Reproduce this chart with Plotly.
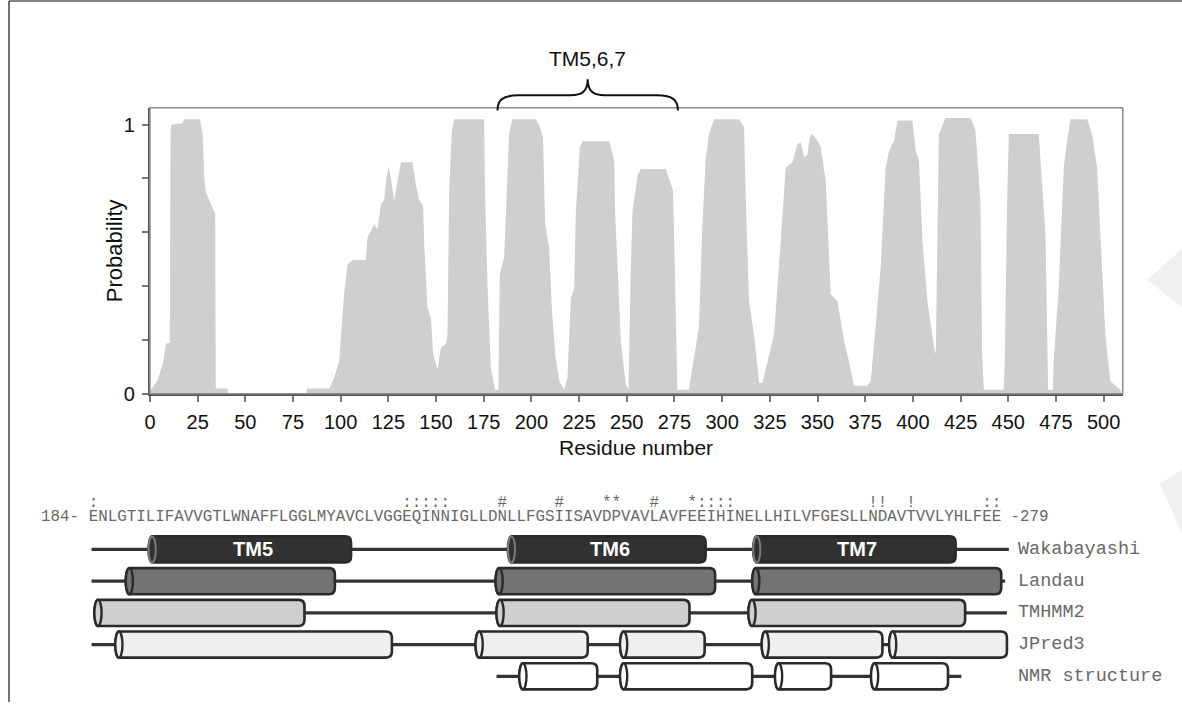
import plotly.graph_objects as go

W, H = 1182, 713

# ---------------- data: TM probability profile ----------------
RESIDUE = [0, 1, 2.3, 4, 5.8, 7, 8.4, 10.4, 10.8, 11.2, 17, 18, 26.2, 27.6, 28.5, 29.3, 32, 34.2, 34.5, 40.7, 41,
           82, 82.3, 94, 96.6, 99.2, 100.5, 101.8, 103.6, 106.2, 113.2, 114, 117.6, 119.3, 121.1, 122.8, 123.7,
           125.1, 126.3, 128.1, 129.8, 131.6, 137.7, 139.1, 141.1, 143.2, 143.8, 145.5, 147.3, 148.5, 150.8,
           152.5, 155.1, 156, 156.9, 158.3, 159.5, 175.2, 175.7, 176.9, 178.7, 180.9, 182.7, 183.4, 185.7,
           187.4, 188.3, 190, 202.3, 204, 206.1, 207.2, 209.3, 210.7, 212.5, 214.6, 217.2, 218.9, 220.7, 222.4,
           223.3, 225.4, 226.8, 240.8, 243.4, 243.9, 245.2, 246.9, 249.5, 250.9, 252.1, 253, 255.6, 257.3,
           270.4, 272.1, 274.2, 275.2, 276.5, 282.5, 284.3, 287.8, 289.6, 291.3, 293.1, 295.7, 308.8, 311.5,
           312.4, 314.1, 316.7, 319.4, 321.1, 324.6, 327.2, 330.7, 333.3, 336.8, 339.5, 341.2, 342.9, 344.7,
           345.9, 347.3, 349.9, 351.7, 354.3, 356.9, 360.4, 363.9, 366.5, 369.1, 376.1, 377.9, 380.5, 383.1,
           385.7, 387.5, 390.1, 391.9, 399.7, 401.5, 403.2, 405, 407.6, 411.1, 412, 413.6, 417.1, 430.2, 432.8,
           435.4, 436.3, 437.2, 447.6, 448.2, 449.4, 450.3, 466, 467.8, 469.5, 470.9, 473.3, 473.8, 476.4,
           479.1, 480.8, 482.6, 491.3, 493.9, 496.6, 498.3, 500.9, 503.5, 506.1, 508.7, 509.4]
PROBABILITY = [0.01, 0.02, 0.035, 0.05, 0.09, 0.12, 0.186, 0.19, 0.97, 1.0, 1.005, 1.02, 1.02, 0.965, 0.80, 0.75,
               0.705, 0.67, 0.02, 0.02, 0.0,
               0.0, 0.02, 0.02, 0.06, 0.12, 0.25, 0.37, 0.48, 0.497, 0.497, 0.58, 0.63, 0.61, 0.705, 0.72, 0.79,
               0.845, 0.80, 0.72, 0.79, 0.86, 0.86, 0.79, 0.72, 0.70, 0.556, 0.32, 0.282, 0.147, 0.09,
               0.171, 0.184, 0.22, 0.76, 0.978, 1.02, 1.02, 0.742, 0.42, 0.099, 0.015, 0.015, 0.444, 0.506,
               0.804, 0.965, 1.02, 1.02, 1.0, 0.952, 0.63, 0.543, 0.32, 0.147, 0.047, 0.015, 0.06, 0.357, 0.39,
               0.68, 0.916, 0.938, 0.938, 0.866, 0.67, 0.444, 0.196, 0.035, 0.015, 0.469, 0.68, 0.81, 0.835,
               0.835, 0.80, 0.755, 0.469, 0.015, 0.015, 0.099, 0.246, 0.618, 0.866, 0.965, 1.02, 1.02, 0.99,
               0.717, 0.346, 0.22, 0.04, 0.04, 0.147, 0.22, 0.568, 0.84, 0.86, 0.928, 0.934, 0.88, 0.888,
               0.952, 0.965, 0.94, 0.916, 0.79, 0.37, 0.346, 0.196, 0.12, 0.03, 0.03, 0.047, 0.246, 0.469,
               0.84, 0.903, 0.94, 1.015, 1.015, 0.903, 0.866, 0.568, 0.346, 0.171, 0.147, 0.965, 1.025, 1.025, 0.978,
               0.717, 0.147, 0.015, 0.015, 0.134, 0.717, 0.965, 0.965, 0.78, 0.59, 0.015, 0.015, 0.12, 0.39,
               0.84, 0.94, 1.02, 1.02, 0.965, 0.84, 0.59, 0.22, 0.047, 0.03, 0.015, 0.0]

X_TICKS = list(range(0, 501, 25))
Y_TICKS = [0, 0.2, 0.4, 0.6, 0.8, 1.0]
Y_TICK_TEXT = ["0", "", "", "", "", "1"]

BRACE_START, BRACE_END = 182.2, 276.8
BRACE_LABEL = "TM5,6,7"

# ---------------- data: sequence & secondary structure ----------------
SEQ_START, SEQ_END = 184, 279
SEQUENCE = "ENLGTILIFAVVGTLWNAFFLGGLMYAVCLVGGEQINNIGLLDNLLFGSIISAVDPVAVLAVFEEIHINELLHILVFGESLLNDAVTVVLYHLFEE"
MARK_RESIDUES = [184, 217, 218, 219, 220, 221, 227, 233, 238, 239, 243, 247, 248, 249, 250, 251,
                 266, 267, 270, 278, 279]
MARK_SYMBOLS = [":", ":", ":", ":", ":", ":", "#", "#", "*", "*", "#", "*", ":", ":", ":", ":",
                "!", "!", "!", ":", ":"]

METHODS = ["Wakabayashi", "Landau", "TMHMM2", "JPred3", "NMR structure"]
BACKBONE_START = [184.3, 184.3, 184.6, 184.3, 226.9]
BACKBONE_END = [280.8, 280.4, 280.6, 280.6, 275.8]
HELIX_START = [[190.3, 228.1, 253.9],
               [187.9, 226.8, 253.8],
               [184.6, 226.9, 253.4],
               [186.8, 224.7, 239.9, 254.8, 268.2],
               [229.3, 239.9, 256.2, 266.3]]
HELIX_END = [[211.6, 248.9, 275.2],
             [209.9, 249.9, 280.0],
             [206.7, 247.2, 276.2],
             [215.9, 236.5, 248.8, 267.5, 280.6],
             [237.5, 253.8, 262.1, 274.4]]
HELIX_FILL = ["#313131", "#737373", "#cfcfcf", "#efefef", "#ffffff"]
TM_LABELS = ["TM5", "TM6", "TM7"]

# ---------------- layout geometry (target picture pixels) ----------------
# the captured picture places the paper area at x in [OX, W], y in [0, SH]
OX, SH = 5.5, 699.5
SW = W - OX

def fx(px):  # picture x -> paper
    return (px - OX) / SW

def fy(py):  # picture y -> paper
    return 1 - py / SH

PLOT_L, PLOT_R, PLOT_T, PLOT_B = 149.5, 1122.7, 107.3, 392.4
X_MAX = 510.0
Y_MAX = (PLOT_B - PLOT_T) / 268.2

SEQ_PX0, CHAR_W = 88.2, 9.51           # picture x of left edge of residue 184, width per residue
ROW0_PX, ROW_PITCH = 547.5, 31.6
LOW_TOP = 470.0                        # top pixel of the lower panel
X2_RANGE = [SEQ_START - (SEQ_PX0 - OX) / CHAR_W, SEQ_START + (W - SEQ_PX0) / CHAR_W]
Y2_RANGE = [(SH - ROW0_PX) / ROW_PITCH, (LOW_TOP - ROW0_PX) / ROW_PITCH]
SEQ_ROW = (515.0 - ROW0_PX) / ROW_PITCH
MARK_ROW = (501.7 - ROW0_PX) / ROW_PITCH

SANS = "Liberation Sans, Arial, sans-serif"
MONO = "Liberation Mono, Courier New, monospace"
SEQ_GRAY = "#686868"

fig = go.Figure()

fig.add_trace(go.Scatter(x=RESIDUE, y=PROBABILITY, mode="lines", fill="tozeroy",
                         fillcolor="#cfcfd1", line=dict(width=0, color="#cfcfd1"),
                         hoverinfo="skip", showlegend=False, xaxis="x", yaxis="y"))

# sequence letters (one per residue column)
seq_x = [SEQ_START + i + 0.5 for i in range(len(SEQUENCE))]
fig.add_trace(go.Scatter(x=seq_x, y=[SEQ_ROW] * len(SEQUENCE), text=list(SEQUENCE), mode="text",
                         textposition="middle center",
                         textfont=dict(family=MONO, size=15.85, color=SEQ_GRAY),
                         hoverinfo="skip", showlegend=False, xaxis="x2", yaxis="y2"))
fig.add_trace(go.Scatter(x=[r + 0.5 for r in MARK_RESIDUES], y=[MARK_ROW] * len(MARK_RESIDUES),
                         text=MARK_SYMBOLS, mode="text", textposition="middle center",
                         textfont=dict(family=MONO, size=15.85, color=SEQ_GRAY),
                         hoverinfo="skip", showlegend=False, xaxis="x2", yaxis="y2"))

shapes = []
annotations = []

# faint watermark wedges at the right edge
for pts in ([(1147, 279), (1182, 248), (1182, 306)], [(1160, 482), (1182, 468), (1182, 532)]):
    p = "M " + " L ".join(f"{fx(a)},{fy(b)}" for a, b in pts) + " Z"
    shapes.append(dict(type="path", xref="paper", yref="paper", path=p,
                       fillcolor="#f0f0f0", line=dict(width=0), layer="below"))

# plot frame (top/right lighter)
shapes.append(dict(type="rect", xref="paper", yref="paper",
                   x0=fx(PLOT_L), x1=fx(PLOT_R), y0=fy(PLOT_B), y1=fy(PLOT_T),
                   line=dict(color="#8c8c8c", width=1.5), layer="above"))

# outer figure border (top and left)
shapes.append(dict(type="line", xref="paper", yref="paper", x0=fx(8.5), x1=1, y0=fy(1), y1=fy(1),
                   line=dict(color="#111", width=1.2)))
shapes.append(dict(type="line", xref="paper", yref="paper", x0=fx(8.5), x1=fx(8.5), y0=fy(1), y1=0,
                   line=dict(color="#111", width=1.2)))

# brace over the TM5-7 region
xs, xe = BRACE_START, BRACE_END
xm = (xs + xe) / 2
yb, yh, yt = fy(110), fy(95), fy(79)
brace = (f"M {xs},{yb} C {xs},{fy(100)} {xs+2.5},{yh} {xs+11},{yh} "
         f"L {xm-9},{yh} C {xm-3},{yh} {xm},{fy(91)} {xm},{yt} "
         f"C {xm},{fy(91)} {xm+3},{yh} {xm+9},{yh} "
         f"L {xe-11},{yh} C {xe-2.5},{yh} {xe},{fy(100)} {xe},{yb}")
shapes.append(dict(type="path", xref="x", yref="paper", path=brace,
                   line=dict(color="#111", width=2)))
annotations.append(dict(x=xm, y=fy(58), xref="x", yref="paper", text=BRACE_LABEL, showarrow=False,
                        xanchor="center", yanchor="middle",
                        font=dict(family=SANS, size=21, color="#111")))

# axis titles
annotations.append(dict(x=fx((PLOT_L + PLOT_R) / 2), y=fy(446), xref="paper", yref="paper",
                        text="Residue number", showarrow=False, xanchor="center", yanchor="middle",
                        font=dict(family=SANS, size=21, color="#111")))
annotations.append(dict(x=fx(114), y=fy((PLOT_T + PLOT_B) / 2), xref="paper", yref="paper",
                        text="Probability", showarrow=False, textangle=-90,
                        xanchor="center", yanchor="middle",
                        font=dict(family=SANS, size=22, color="#111")))

# sequence ends
annotations.append(dict(x=SEQ_START, y=SEQ_ROW, xref="x2", yref="y2", text=f"{SEQ_START}-\u00a0",
                        xanchor="right", yanchor="middle", showarrow=False, borderpad=0, borderwidth=0,
                        font=dict(family=MONO, size=15.85, color=SEQ_GRAY)))
annotations.append(dict(x=SEQ_END + 1, y=SEQ_ROW, xref="x2", yref="y2", text=f"\u00a0-{SEQ_END}",
                        xanchor="left", yanchor="middle", showarrow=False, borderpad=0, borderwidth=0,
                        font=dict(family=MONO, size=15.85, color=SEQ_GRAY)))

# cylinders
HH = 13.0 / ROW_PITCH        # half height (y units)
RX = 3.6 / CHAR_W            # ellipse half width (x units)
RCX, RCY = 6.0 / CHAR_W, 6.0 / ROW_PITCH
K = 0.5523
OUTLINE = "#2a2a2a"

for i, name in enumerate(METHODS):
    shapes.append(dict(type="line", xref="x2", yref="y2", x0=BACKBONE_START[i], x1=BACKBONE_END[i],
                       y0=i, y1=i, line=dict(color="#333", width=3.2)))
for i, name in enumerate(METHODS):
    yc = i
    ytp, ybt = yc - HH, yc + HH
    for j, (a, b) in enumerate(zip(HELIX_START[i], HELIX_END[i])):
        cx = a + RX
        path = (f"M {cx},{ytp} L {b-RCX},{ytp} Q {b},{ytp} {b},{ytp+RCY} "
                f"L {b},{ybt-RCY} Q {b},{ybt} {b-RCX},{ybt} L {cx},{ybt} "
                f"C {cx-K*RX},{ybt} {a},{yc+K*HH} {a},{yc} "
                f"C {a},{yc-K*HH} {cx-K*RX},{ytp} {cx},{ytp} Z")
        shapes.append(dict(type="path", xref="x2", yref="y2", path=path, fillcolor=HELIX_FILL[i],
                           line=dict(color=OUTLINE, width=2.6)))
        shapes.append(dict(type="circle", xref="x2", yref="y2", x0=a, x1=a + 2 * RX, y0=ytp, y1=ybt,
                           fillcolor=HELIX_FILL[i],
                           line=dict(color="#7a7a7a" if i == 0 else OUTLINE, width=2 if i == 0 else 2.4)))
        if i == 0:
            annotations.append(dict(x=(a + b) / 2 + 0.3, y=yc, xref="x2", yref="y2",
                                    text=f"<b>{TM_LABELS[j]}</b>", showarrow=False,
                                    xanchor="center", yanchor="middle",
                                    font=dict(family=SANS, size=20, color="#ffffff")))
    annotations.append(dict(x=SEQ_START + (1018 - SEQ_PX0) / CHAR_W, y=yc, xref="x2", yref="y2", text=name,
                            xanchor="left", yanchor="middle", showarrow=False, borderpad=0, borderwidth=0,
                            font=dict(family=MONO, size=18.5, color=SEQ_GRAY)))

fig.update_layout(
    width=W, height=H, margin=dict(l=0, r=0, t=0, b=0),
    paper_bgcolor="white", plot_bgcolor="rgba(0,0,0,0)", showlegend=False,
    xaxis=dict(domain=[fx(PLOT_L), fx(PLOT_R)], range=[0, X_MAX], anchor="y",
               tickmode="array", tickvals=X_TICKS, ticktext=[str(t) for t in X_TICKS],
               ticks="outside", ticklen=6, tickwidth=1.5, tickcolor="#777", ticklabelstandoff=3,
               tickfont=dict(family=SANS, size=20, color="#111"),
               showline=True, linecolor="#555", linewidth=2, showgrid=False, zeroline=False),
    yaxis=dict(domain=[fy(PLOT_B), fy(PLOT_T)], range=[0, Y_MAX], anchor="x",
               tickmode="array", tickvals=Y_TICKS, ticktext=Y_TICK_TEXT,
               ticks="outside", ticklen=6, tickwidth=1.5, tickcolor="#777", ticklabelstandoff=3,
               tickfont=dict(family=SANS, size=20, color="#111"),
               showline=True, linecolor="#555", linewidth=2, showgrid=False, zeroline=False),
    xaxis2=dict(domain=[0, 1], range=X2_RANGE, anchor="y2", visible=False),
    yaxis2=dict(domain=[0, fy(LOW_TOP)], range=Y2_RANGE, anchor="x2", visible=False),
    shapes=shapes, annotations=annotations,
)

POST = ("document.documentElement.style.margin='0px';document.documentElement.style.overflow='hidden';"
        "document.body.style.margin='0px';document.body.style.padding='0px';document.body.style.overflow='hidden';")
fig.write_html("out.html", config={"displayModeBar": False}, post_script=POST)
